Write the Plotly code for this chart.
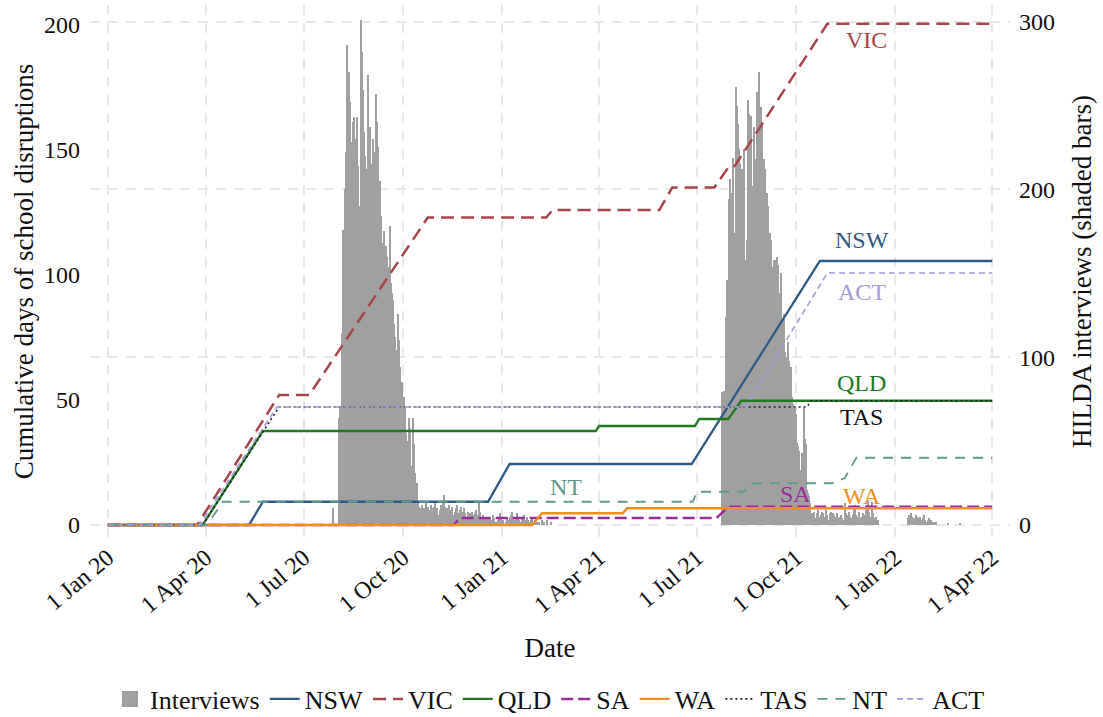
import pandas as pd
import plotly.graph_objects as go

# ---------------- data ----------------
# Daily HILDA interview counts (right axis)
pre_dates = ["2020-07-28"]
pre_counts = [10]

wave1_start = "2020-08-03"
wave1_counts = [
    64, 70, 114, 176, 160, 200, 222, 286, 262, 270,
    252, 228, 205, 240, 243, 230, 243, 214, 190, 176,
    301, 282, 259, 234, 220, 212, 195, 268, 237, 215,
    194, 230, 222, 214, 257, 240, 225, 198, 205, 184,
    168, 175, 150, 166, 160, 154, 148, 178, 144, 138,
    134, 120, 112, 104, 126, 110, 94, 79, 85, 64,
    76, 70, 55, 45, 50, 64, 58, 35, 64, 48,
    31, 21, 25, 13, 11, 10,
    9, 12, 7, 10, 13, 8, 11, 6, 9, 12, 10, 7, 11, 13, 8, 10, 6, 9, 12, 8,
    14, 18, 11, 9,
    10, 8, 12, 7, 9, 11, 6, 8, 10, 12, 7, 5, 9, 11, 8, 6, 10, 7, 5, 8, 6,
    7, 5, 8, 6, 4, 7, 9, 5, 6, 14, 8, 4, 6, 3, 5, 4,
    3, 5, 2, 4, 0, 3, 6, 4, 2, 0, 3, 5, 7, 4, 2, 3, 0, 0, 2, 4, 3, 5, 6, 8, 4,
    3, 2, 5, 7, 4, 3, 0, 2, 4, 6, 3, 2, 5, 3, 0, 2, 3, 4, 2, 0, 3, 2, 1, 2,
    0, 0, 3, 0, 2, 0, 0, 3, 0, 0, 2, 0,
]

wave2_start = "2021-07-24"
wave2_counts = [
    79, 72, 80, 76, 124, 146, 135, 194, 206, 198,
    219, 174, 165, 261, 250, 239, 224, 215, 202, 212,
    205, 224, 158, 170, 253, 245, 228, 244, 202, 195,
    237, 218, 210, 258, 250, 270, 249, 240, 207, 218,
    212, 184, 198, 190, 168, 174, 170, 154, 158, 150,
    158, 160, 155, 138, 132, 150, 122, 118, 126, 103,
    100, 109, 98, 92, 94, 76, 72, 64, 70, 66,
    49, 47, 44, 33, 43, 40, 70, 51, 48, 21,
    19, 17, 13, 7,
    7, 6, 8, 4, 7, 9, 5, 3, 6, 8, 7, 4, 5, 9, 6, 3, 7, 8, 6, 7,
    6, 4, 5, 7, 3, 4, 5, 6, 4, 3, 13, 7, 4, 6, 8, 5, 3, 4, 6, 9,
    12, 6, 5, 8, 4, 3, 5, 7, 4, 6, 9, 12, 15, 8, 5, 14, 7, 4, 3, 5,
    2, 3,
]

wave3_start = "2022-01-13"
wave3_counts = [4, 6, 3, 7, 5, 4, 2, 6, 5, 3, 4, 5, 3, 2, 4, 6, 3, 2, 3, 4,
                2, 3, 2, 1, 2, 0, 2]

late_dates = ["2022-02-19", "2022-03-02"]
late_counts = [1, 1]

# Cumulative days of school disruptions (left axis), breakpoints per state
NSW_dates = ["2020-01-01", "2020-05-11", "2020-05-24", "2020-12-19", "2021-01-08",
             "2021-06-26", "2021-10-23", "2022-04-01"]
NSW_vals = [0, 0, 9.3, 9.3, 24.4, 24.4, 105.6, 105.6]

VIC_dates = ["2020-01-01", "2020-03-24", "2020-06-08", "2020-07-06", "2020-10-24",
             "2021-02-11", "2021-02-17", "2021-05-27", "2021-06-08", "2021-07-17",
             "2021-07-31", "2021-08-05", "2021-10-30", "2022-04-01"]
VIC_vals = [0, 0, 52, 52, 123, 123, 126, 126, 135, 135, 143.6, 143.6, 200.5, 200.5]

QLD_dates = ["2020-01-01", "2020-03-29", "2020-05-24", "2021-03-29", "2021-04-01",
             "2021-06-29", "2021-07-03", "2021-07-30", "2021-08-11", "2022-04-01"]
QLD_vals = [0, 0, 37.6, 37.6, 39.6, 39.6, 42.4, 42.4, 49.7, 49.7]

SA_dates = ["2020-01-01", "2020-11-17", "2020-11-23", "2021-07-19", "2021-07-30",
            "2022-04-01"]
SA_vals = [0, 0, 2.8, 2.8, 7.3, 7.3]

WA_dates = ["2020-01-01", "2021-01-29", "2021-02-07", "2021-04-23", "2021-04-27",
            "2022-04-01"]
WA_vals = [0, 0, 4.7, 4.7, 6.7, 6.7]

TAS_dates = ["2020-01-01", "2020-03-29", "2020-06-08", "2021-10-11", "2021-10-15",
             "2022-04-01"]
TAS_vals = [0, 0, 47.2, 47.2, 49.7, 49.7]

NT_dates = ["2020-01-01", "2020-04-02", "2020-04-17", "2021-06-27", "2021-07-01",
            "2021-08-13", "2021-08-22", "2021-11-03", "2021-11-15", "2021-11-26",
            "2022-04-01"]
NT_vals = [0, 0, 9.3, 9.3, 13.3, 13.3, 16.7, 16.7, 18.7, 26.9, 26.9]

ACT_dates = ["2020-01-01", "2020-03-26", "2020-06-06", "2021-08-15", "2021-10-30",
             "2022-04-01"]
ACT_vals = [0, 0, 47.2, 47.2, 100.8, 100.8]

tick_dates = ["2020-01-01", "2020-04-01", "2020-07-01", "2020-10-01", "2021-01-01",
              "2021-04-01", "2021-07-01", "2021-10-01", "2022-01-01", "2022-04-01"]
tick_labels = ["1 Jan 20", "1 Apr 20", "1 Jul 20", "1 Oct 20", "1 Jan 21",
               "1 Apr 21", "1 Jul 21", "1 Oct 21", "1 Jan 22", "1 Apr 22"]

# ---------------- build ----------------
def seg(start, counts):
    return list(pd.date_range(start, periods=len(counts), freq="D")), list(counts)

bar_x, bar_y = [], []
for xs, ys in [
    (list(pd.to_datetime(pre_dates)), pre_counts),
    seg(wave1_start, wave1_counts),
    seg(wave2_start, wave2_counts),
    seg(wave3_start, wave3_counts),
    (list(pd.to_datetime(late_dates)), late_counts),
]:
    bar_x += xs
    bar_y += ys

FONT = "Liberation Serif, Times New Roman, serif"
BAR_COLOR = "#A0A0A0"
colors = {
    "NSW": "#2E5A86", "VIC": "#A6464C", "QLD": "#217A21", "SA": "#992E99",
    "WA": "#F28E1C", "TAS": "#222222", "NT": "#5F9A8E", "ACT": "#A39BDB",
}
styles = {
    "NSW": dict(width=2.3, dash="solid"),
    "VIC": dict(width=2.5, dash="13px,7px"),
    "QLD": dict(width=2.3, dash="solid"),
    "SA": dict(width=2.5, dash="12px,5px"),
    "WA": dict(width=2.3, dash="solid"),
    "TAS": dict(width=1.6, dash="2px,3px"),
    "NT": dict(width=1.8, dash="10px,8px"),
    "ACT": dict(width=1.6, dash="6px,4px"),
}
series = [
    ("NSW", NSW_dates, NSW_vals), ("VIC", VIC_dates, VIC_vals),
    ("QLD", QLD_dates, QLD_vals), ("SA", SA_dates, SA_vals),
    ("WA", WA_dates, WA_vals), ("TAS", TAS_dates, TAS_vals),
    ("NT", NT_dates, NT_vals), ("ACT", ACT_dates, ACT_vals),
]

fig = go.Figure()
fig.add_trace(go.Bar(
    x=bar_x, y=bar_y, name="Interviews", yaxis="y", showlegend=False,
    marker=dict(color=BAR_COLOR, line=dict(width=0)),
    width=86400000,
))
# legend key for the bars (bigger square, like the original)
fig.add_trace(go.Scatter(
    x=[None], y=[None], name="Interviews", mode="markers", yaxis="y",
    marker=dict(symbol="square", size=16, color=BAR_COLOR),
))
for name, d, v in series:
    fig.add_trace(go.Scatter(
        x=d, y=v, name=name, mode="lines", yaxis="y2",
        line=dict(color=colors[name], **styles[name]),
    ))

labels = [
    ("VIC", "2021-12-05", 194), ("NSW", "2021-12-01", 114),
    ("ACT", "2021-12-01", 93.2), ("QLD", "2021-12-01", 56.8),
    ("TAS", "2021-12-01", 43.2), ("NT", "2021-03-01", 15.2),
    ("SA", "2021-09-30", 12.4), ("WA", "2021-12-01", 11.6),
]
for name, xd, yv in labels:
    fig.add_annotation(
        x=xd, y=yv, xref="x", yref="y2", text=name, showarrow=False,
        font=dict(family=FONT, size=24,
                  color="#111111" if name == "TAS" else colors[name]),
    )

grid = dict(gridcolor="#E8E8E8", gridwidth=1.5, griddash="10px,8px")

fig.update_layout(
    width=1103, height=717,
    margin=dict(l=90, r=93, t=5, b=179),
    paper_bgcolor="white", plot_bgcolor="white",
    font=dict(family=FONT, size=24, color="#111111"),
    bargap=0,
    showlegend=True,
    legend=dict(orientation="h", x=0.5, xanchor="center",
                yref="container", y=(717 - 699) / 717, yanchor="middle",
                font=dict(family=FONT, size=26, color="#111111"),
                itemwidth=30, tracegroupgap=0),
    xaxis=dict(
        type="date", range=["2019-12-15 12:00", "2022-04-17 12:00"],
        tickvals=tick_dates, ticktext=tick_labels, tickangle=-40,
        showgrid=True, zeroline=False, showline=False, ticks="",
        automargin=False,
        tickfont=dict(family=FONT, size=24),
        title=dict(text="Date", font=dict(family=FONT, size=27), standoff=21),
        **grid,
    ),
    yaxis=dict(
        side="right", range=[-7.75, 309.9], tickvals=[0, 100, 200, 300],
        showgrid=True, zeroline=False, showline=False, ticks="",
        automargin=False, ticklabelstandoff=8,
        tickfont=dict(family=FONT, size=24),
        title=dict(text="HILDA interviews (shaded bars)",
                   font=dict(family=FONT, size=27), standoff=18),
        **grid,
    ),
    yaxis2=dict(
        side="left", overlaying="y", range=[-5.2, 208],
        tickvals=[0, 50, 100, 150, 200],
        showgrid=False, zeroline=False, showline=False, ticks="",
        automargin=False, ticklabelstandoff=9,
        tickfont=dict(family=FONT, size=24),
        title=dict(text="Cumulative days of school disruptions",
                   font=dict(family=FONT, size=27), standoff=2),
    ),
)

fig.write_html("out.html", config={"displayModeBar": False},
               post_script="document.body.style.margin='0';")
